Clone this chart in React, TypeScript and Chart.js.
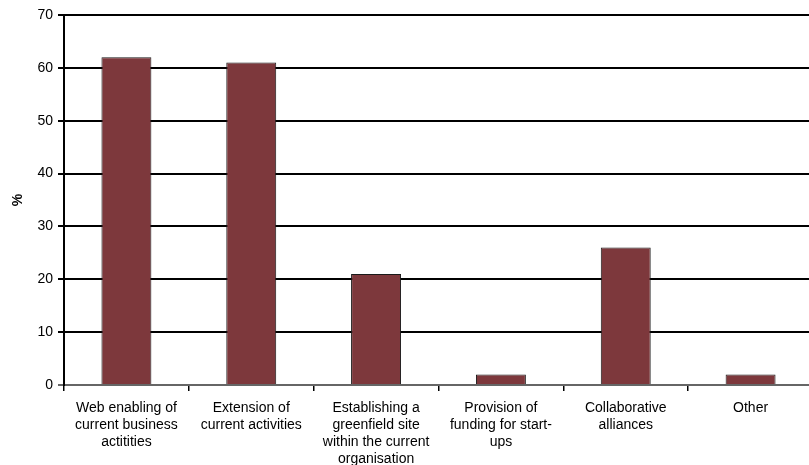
import React, { useEffect, useRef } from "react";
import { Chart, registerables } from "chart.js";

Chart.register(...registerables);

const categories: string[][] = [
  ["Web enabling of", "current business", "actitities"],
  ["Extension of", "current activities"],
  ["Establishing a", "greenfield site", "within the current", "organisation"],
  ["Provision of", "funding for start-", "ups"],
  ["Collaborative", "alliances"],
  ["Other"],
];
const values: number[] = [62, 61, 21, 2, 26, 2];
const yMin = 0;
const yMax = 70;
const yStep = 10;
const yTitle = "%";

export default function App() {
  const ref = useRef<HTMLCanvasElement | null>(null);
  useEffect(() => {
    document.body.style.margin = "0";
    document.body.style.overflow = "hidden";
    document.documentElement.style.overflow = "hidden";
    const font = { family: "'Liberation Sans', Arial, sans-serif", size: 14 };
    const chart = new Chart(ref.current as HTMLCanvasElement, {
      type: "bar",
      data: {
        labels: categories,
        datasets: [
          {
            data: values,
            backgroundColor: "#7D383C",
            borderColor: "#1a1a1a",
            borderWidth: 1,
            barPercentage: 0.4,
            categoryPercentage: 1,
          },
        ],
      },
      options: {
        animation: false,
        responsive: false,
        maintainAspectRatio: false,
        layout: { padding: { top: 15, right: 0, bottom: 0, left: 0 } },
        plugins: { legend: { display: false }, tooltip: { enabled: false } },
        scales: {
          x: {
            afterFit: (s: any) => {
              s.height = 80;
            },
            grid: {
              offset: true,
              drawOnChartArea: false,
              drawTicks: true,
              tickLength: 6,
              color: "#000",
              lineWidth: 1.5,
            },
            border: { display: true, color: "#666", width: 1 },
            ticks: {
              color: "#000",
              font,
              padding: 9,
              maxRotation: 0,
              autoSkip: false,
            },
          },
          y: {
            min: yMin,
            max: yMax,
            afterFit: (s: any) => {
              s.width = 64;
            },
            grid: {
              color: (ctx: any) => (ctx.tick && ctx.tick.value === 0 ? "#666" : "#000"),
              lineWidth: 2,
              tickLength: 6,
              drawTicks: true,
            },
            border: { display: true, color: "#000", width: 2 },
            ticks: { stepSize: yStep, color: "#000", font, padding: 5 },
            title: {
              display: true,
              text: yTitle,
              color: "#000",
              font: { family: font.family, size: 14, weight: "bold" },
              padding: { top: 10, bottom: 0 },
            },
          },
        },
      },
    } as any);
    return () => chart.destroy();
  }, []);
  return (
    <div style={{ position: "fixed", left: 0, top: 0, width: 813, height: 465 }}>
      <canvas ref={ref} width={813} height={465} style={{ width: 813, height: 465 }} />
    </div>
  );
}
